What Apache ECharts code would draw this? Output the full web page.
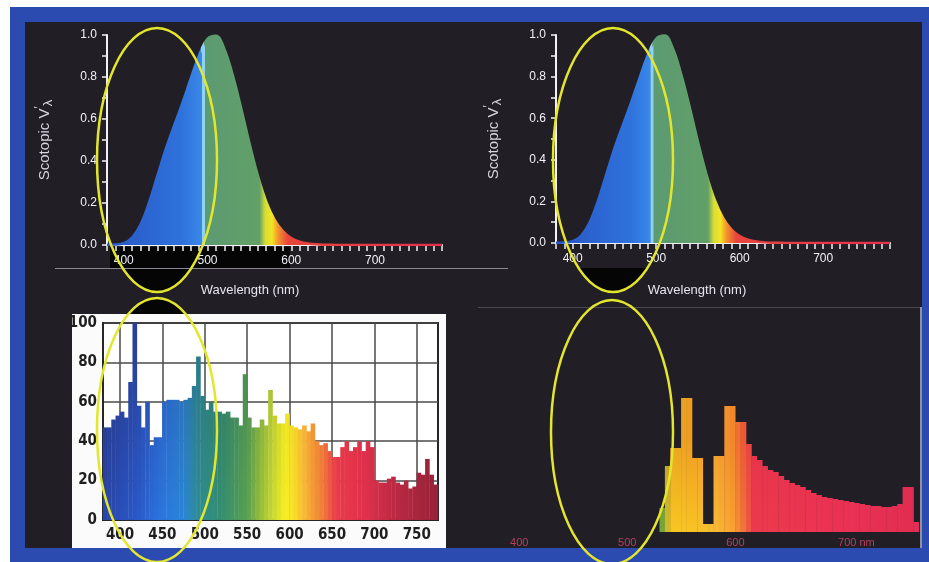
<!DOCTYPE html>
<html>
<head>
<meta charset="utf-8">
<style>
html,body{margin:0;padding:0;background:#ffffff;}
#c{width:929px;height:562px;}
</style>
<script src="https://cdn.jsdelivr.net/npm/echarts@6/dist/echarts.min.js"></script>
</head>
<body>
<div id="c"></div>
<script>
// ---------------- DATA ----------------
// Scotopic luminous efficiency curve (top panels)
const scotopicWavelengths = [380,390,400,410,420,430,440,450,460,470,480,490,500,510,520,530,540,550,560,570,580,590,600,610,620,630,640,650,660,670,680,690,700,710,720,730,740,750,760,770,780];
const scotopicValues = [0.001,0.002,0.009,0.035,0.097,0.2,0.328,0.455,0.567,0.676,0.793,0.904,0.982,0.997,0.935,0.811,0.655,0.487,0.333,0.208,0.121,0.066,0.033,0.016,0.007,0.003,0.0015,0.0007,0.0003,0.0001,0,0,0,0,0,0,0,0,0,0,0];
const scotopicXTicks = [400,500,600,700];
const scotopicYTicks = [0,0.2,0.4,0.6,0.8,1.0];

// Lamp A spectrum (bottom-left, white panel), 5 nm bins (bin start)
const lampAWavelengths = [380,385,390,395,400,405,410,415,420,425,430,435,440,445,450,455,460,465,470,475,480,485,490,495,500,505,510,515,520,525,530,535,540,545,550,555,560,565,570,575,580,585,590,595,600,605,610,615,620,625,630,635,640,645,650,655,660,665,670,675,680,685,690,695,700,705,710,715,720,725,730,735,740,745,750,755,760,765,770];
const lampAValues = [47,47,51,53,55,52,70,100,58,47,60,38,42,42,60,61,61,61,60,61,62,68,83,63,56,60,55,55,54,55,52,52,48,74,52,47,47,51,48,66,53,49,49,54,48,47,46,48,45,49,40,38,39,35,32,32,37,40,35,37,40,35,40,37,20,19,19,21,22,19,18,20,16,17,24,23,31,23,18];
const lampAXTicks = [400,450,500,550,600,650,700,750];
const lampAYTicks = [0,20,40,60,80,100];

// Lamp B spectrum (bottom-right, dark panel), 5 nm bins (bin start)
const lampBWavelengths = [530,535,540,545,550,555,560,565,570,575,580,585,590,595,600,605,610,615,620,625,630,635,640,645,650,655,660,665,670,675,680,685,690,695,700,705,710,715,720,725,730,735,740,745,750,755,760,765];
const lampBValues = [12,33,42,42,67,67,37,37,4,4,38,38,63,63,55,55,44,38,36,33,31,30,28,26,24.5,23.5,22.5,21,19.5,18.5,17.5,17,16.5,16,15.5,15,14.5,14,13.5,13,13,12.5,12.5,13,14,22.5,22.5,5];
const lampBXTicks = [400,500,600,700];

// ---------------- STYLE HELPERS ----------------
function hex(c){c=c.replace('#','');return [parseInt(c.substr(0,2),16),parseInt(c.substr(2,2),16),parseInt(c.substr(4,2),16)];}
function toHex(a){return '#'+a.map(v=>Math.max(0,Math.min(255,Math.round(v))).toString(16).padStart(2,'0')).join('');}
function ramp(stops, x){
  if (x <= stops[0][0]) return stops[0][1];
  for (let i=1;i<stops.length;i++){
    if (x <= stops[i][0]){
      const t=(x-stops[i-1][0])/(stops[i][0]-stops[i-1][0]);
      const a=hex(stops[i-1][1]), b=hex(stops[i][1]);
      return toHex([0,1,2].map(k=>a[k]+(b[k]-a[k])*t));
    }
  }
  return stops[stops.length-1][1];
}
const specATop = [[380,'#26357f'],[420,'#283f98'],[450,'#2b58bc'],[475,'#2b6aac'],[495,'#2b7782'],[520,'#2f7862'],[550,'#4a8a50'],[575,'#9ab63a'],[595,'#e8e022'],[605,'#f0d028'],[620,'#f0a232'],[640,'#ec6a3a'],[655,'#e53646'],[690,'#da2c4a'],[720,'#b82642'],[775,'#8c2034']];
const specABottom = [[380,'#2a45a8'],[420,'#2a58c8'],[450,'#2a76e0'],[475,'#2a86d6'],[495,'#2e8e8e'],[520,'#348e70'],[550,'#5aa050'],[575,'#b8d034'],[595,'#f8f022'],[605,'#f8e02a'],[620,'#f8b232'],[640,'#f07a3a'],[655,'#ea3c4a'],[690,'#e0304c'],[720,'#c02a44'],[775,'#962238']];
const specBTop = [[530,'#5a8a3a'],[540,'#e8a822'],[560,'#f09c22'],[580,'#f4a232'],[597,'#f08a2a'],[607,'#ee5a36'],[617,'#e6344c'],[700,'#e62e52'],[765,'#de2a50']];
const specBBottom = [[530,'#4a9a40'],[540,'#f8c622'],[560,'#f8c424'],[580,'#f8bc32'],[597,'#f8a432'],[607,'#f07a36'],[617,'#ec3a4c'],[700,'#ea3254'],[765,'#e22e52']];

// gradient for scotopic fill, stops placed by wavelength over 380..780
function wlFrac(w){return (w-380)/400;}
const scotStops = [
  {offset:0, color:'#2856c4'},
  {offset:wlFrac(470), color:'#2f72dc'},
  {offset:wlFrac(493), color:'#3a88e8'},
  {offset:wlFrac(493.5), color:'#8fd2f2'},
  {offset:wlFrac(496.5), color:'#8fd2f2'},
  {offset:wlFrac(497), color:'#5c9a72'},
  {offset:wlFrac(562), color:'#62a068'},
  {offset:wlFrac(569), color:'#d6de34'},
  {offset:wlFrac(577), color:'#f6e424'},
  {offset:wlFrac(584), color:'#f2962c'},
  {offset:wlFrac(596), color:'#e8443c'},
  {offset:1, color:'#e2304e'}
];
function scotGrad(){return {type:'linear',x:0,y:0,x2:1,y2:0,colorStops:scotStops};}

// ---------------- LAYOUT ----------------
const G = [
  {left:107, top:35, width:335, height:210},
  {left:556, top:35, width:334, height:208},
  {left:103, top:323, width:335, height:197},
  {left:476, top:332, width:443, height:200}
];
const axA = {min:380, max:775};
const axB = {min:360, max:770};
const bwA = G[2].width*5/(axA.max-axA.min)+0.4;
const bwB = G[3].width*5/(axB.max-axB.min)+0.4;

function ellipseSlice(cx,cy,rx,ry,y0,y1){
  const n=40, pts=[];
  for(let i=0;i<=n;i++){const y=y0+(y1-y0)*i/n;const t=1-Math.pow((y-cy)/ry,2);pts.push([cx-(t>0?rx*Math.sqrt(t):0),y]);}
  for(let i=n;i>=0;i--){const y=y0+(y1-y0)*i/n;const t=1-Math.pow((y-cy)/ry,2);pts.push([cx+(t>0?rx*Math.sqrt(t):0),y]);}
  return pts;
}

const white = '#f2f2f6';
function topX(gi){
  return {gridIndex:gi, type:'value', min:380, max:780, interval:10,
    axisLine:{show:true, lineStyle:{color:white, width:2}},
    axisTick:{show:true, length:6, lineStyle:{color:white, width:1.5}},
    axisLabel:{customValues:scotopicXTicks, color:white, fontSize:12, margin:10, fontFamily:'Liberation Sans'},
    splitLine:{show:false}};
}
function topY(gi){
  return {gridIndex:gi, type:'value', min:0, max:1, interval:0.1,
    axisLine:{show:true, lineStyle:{color:white, width:2}},
    axisTick:{show:true, length:5, lineStyle:{color:white, width:1.5}},
    axisLabel:{customValues:scotopicYTicks, formatter:v=>v.toFixed(1), color:white, fontSize:12, margin:10, fontFamily:'Liberation Sans'},
    splitLine:{show:false},
    name:'Scotopic V{sup|′}{sub|λ}', nameLocation:'middle', nameGap:52, nameRotate:90,
    nameTextStyle:{color:'#d8d5e0', fontSize:15, fontFamily:'Liberation Sans',
      rich:{sup:{color:'#d8d5e0', fontSize:12, fontFamily:'Liberation Sans', verticalAlign:'top'},
            sub:{color:'#d8d5e0', fontSize:13, fontFamily:'Liberation Sans', verticalAlign:'bottom', padding:[8,0,0,0]}}}
  };
}

const scotData = scotopicWavelengths.map((w,i)=>[w,scotopicValues[i]]);
const lampAData = lampAWavelengths.map((w,i)=>({
  value:[w+2.5, lampAValues[i]],
  itemStyle:{color:{type:'linear',x:0,y:G[2].top,x2:0,y2:G[2].top+G[2].height,global:true,
    colorStops:[{offset:0,color:ramp(specATop,w+2.5)},{offset:1,color:ramp(specABottom,w+2.5)}]}}
}));
const lampBData = lampBWavelengths.map((w,i)=>({
  value:[w+2.5, lampBValues[i]],
  itemStyle:{color:{type:'linear',x:0,y:G[3].top,x2:0,y2:G[3].top+G[3].height,global:true,
    colorStops:[{offset:0,color:ramp(specBTop,w+2.5)},{offset:0.55,color:ramp(specBTop,w+2.5)},{offset:1,color:ramp(specBBottom,w+2.5)}]}}
}));

const labelFont = "'Liberation Sans Narrow','DejaVu Sans Condensed','Liberation Sans',sans-serif";

const option = {
  animation:false,
  backgroundColor:'#ffffff',
  grid:[
    Object.assign({}, G[0]),
    Object.assign({}, G[1]),
    Object.assign({show:true, backgroundColor:'#ffffff', borderColor:'#262626', borderWidth:2}, G[2]),
    Object.assign({}, G[3])
  ],
  xAxis:[
    topX(0), topX(1),
    {gridIndex:2, type:'value', min:axA.min, max:axA.max,
      axisLine:{show:true, lineStyle:{color:'#262626', width:2}},
      axisTick:{show:false, customValues:lampAXTicks},
      axisLabel:{customValues:lampAXTicks, color:'#1e1e1e', fontSize:15, fontWeight:'bold', fontFamily:labelFont, margin:8},
      splitLine:{show:true, lineStyle:{color:'#4a4a4a', width:1.5}}},
    {gridIndex:3, type:'value', min:axB.min, max:axB.max,
      axisLine:{show:false}, axisTick:{show:false}, splitLine:{show:false},
      axisLabel:{customValues:lampBXTicks, color:'#b4405e', fontSize:11, margin:5, fontFamily:'Liberation Sans',
        formatter:v=> v===700 ? '{p|}700 nm' : String(v), rich:{p:{width:26}}}}
  ],
  yAxis:[
    topY(0), topY(1),
    {gridIndex:2, type:'value', min:0, max:100, interval:20,
      axisLine:{show:true, lineStyle:{color:'#262626', width:2}},
      axisTick:{show:false},
      axisLabel:{customValues:lampAYTicks, color:'#1e1e1e', fontSize:15, fontWeight:'bold', fontFamily:labelFont, margin:6},
      splitLine:{show:true, lineStyle:{color:'#4a4a4a', width:1.5}}},
    {gridIndex:3, type:'value', min:0, max:100, show:false}
  ],
  series:[
    {type:'line', xAxisIndex:0, yAxisIndex:0, data:scotData, smooth:0.4, showSymbol:false, symbol:'none',
      lineStyle:{width:2.5, color:scotGrad()}, areaStyle:{color:scotGrad(), opacity:1}, z:3},
    {type:'line', xAxisIndex:1, yAxisIndex:1, data:scotData, smooth:0.4, showSymbol:false, symbol:'none',
      lineStyle:{width:2.5, color:scotGrad()}, areaStyle:{color:scotGrad(), opacity:1}, z:3},
    {type:'bar', xAxisIndex:2, yAxisIndex:2, data:lampAData, barWidth:bwA, z:3},
    {type:'bar', xAxisIndex:3, yAxisIndex:3, data:lampBData, barWidth:bwB, z:3}
  ],
  graphic:[
    {type:'rect', z:-20, shape:{x:10,y:7,width:919,height:555}, style:{fill:'#2b4bb1'}},
    {type:'rect', z:-19, shape:{x:25,y:22,width:897,height:526}, style:{fill:'#221e26'}},
    {type:'rect', z:-18, shape:{x:72,y:314,width:374,height:234}, style:{fill:'#fbfbfb'}},
    {type:'rect', z:-17, shape:{x:110,y:247,width:180,height:21}, style:{fill:'#060506'}},
    {type:'polygon', z:-17, shape:{points:ellipseSlice(157,160,60,132,247,292)}, style:{fill:'#060506'}},
    {type:'polygon', z:-17, shape:{points:ellipseSlice(613,160,60,132,268,292)}, style:{fill:'#060506'}},
    {type:'polygon', z:-17, shape:{points:ellipseSlice(157,430,60,132,298,314)}, style:{fill:'#060506'}},
    {type:'line', z:-16, shape:{x1:55,y1:268.5,x2:508,y2:268.5}, style:{stroke:'#8a8692', lineWidth:1}},
    {type:'line', z:-16, shape:{x1:478,y1:307.5,x2:920,y2:307.5}, style:{stroke:'#4a4652', lineWidth:1}},
    {type:'line', z:-16, shape:{x1:921,y1:307,x2:921,y2:548}, style:{stroke:'#b8b8c8', lineWidth:1.5}},
    {type:'text', x:250, y:290, style:{text:'Wavelength (nm)', fill:'#e6e3ee', font:"13px 'Liberation Sans'", textAlign:'center', textVerticalAlign:'middle'}},
    {type:'text', x:697, y:290, style:{text:'Wavelength (nm)', fill:'#e6e3ee', font:"13px 'Liberation Sans'", textAlign:'center', textVerticalAlign:'middle'}},
    {type:'ellipse', z:100, shape:{cx:157,cy:160,rx:60,ry:132}, style:{fill:null, stroke:'#e3e62c', lineWidth:2.5}},
    {type:'ellipse', z:100, shape:{cx:613,cy:160,rx:60,ry:132}, style:{fill:null, stroke:'#e3e62c', lineWidth:2.5}},
    {type:'ellipse', z:100, shape:{cx:157,cy:430,rx:60,ry:132}, style:{fill:null, stroke:'#e3e62c', lineWidth:2.5}},
    {type:'ellipse', z:100, shape:{cx:612,cy:432,rx:61,ry:132}, style:{fill:null, stroke:'#e3e62c', lineWidth:2.5}}
  ]
};

const chart = echarts.init(document.getElementById('c'), null, {width:929, height:562});
chart.setOption(option);
</script>
</body>
</html>
